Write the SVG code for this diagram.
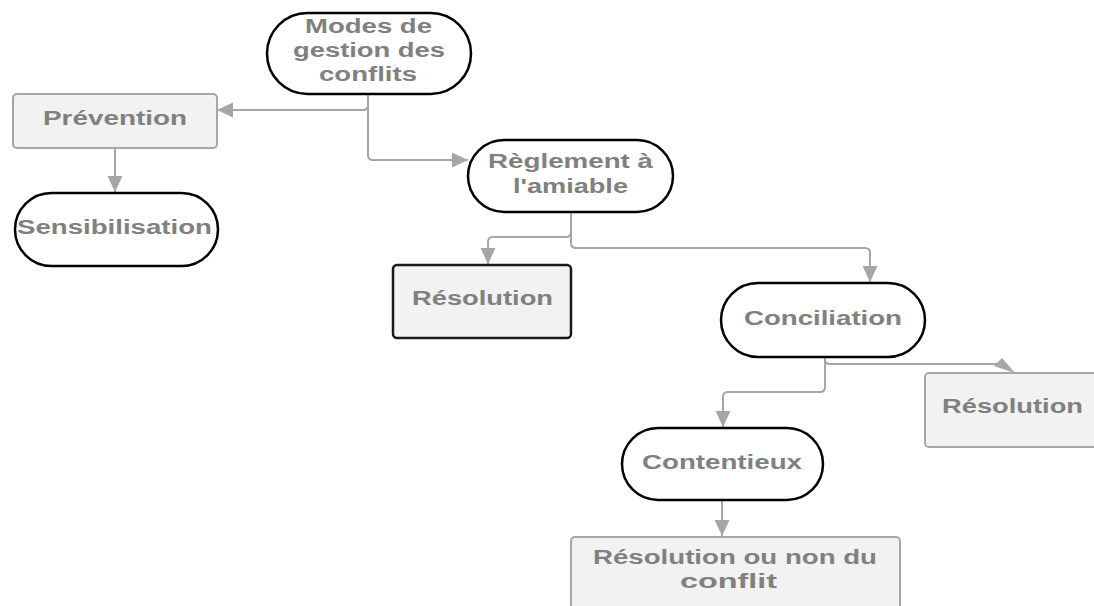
<svg xmlns="http://www.w3.org/2000/svg" width="1094" height="606" viewBox="0 0 1094 606">
<defs>
<style>
.stad{fill:#ffffff;stroke:#000000;stroke-width:2.5}
.box{fill:#f2f2f2;stroke:#a6a6a6;stroke-width:2}
.boxd{fill:#f2f2f2;stroke:#1a1a1a;stroke-width:2.5}
.t{font-family:"Liberation Sans",Arial,sans-serif;font-weight:bold;font-size:19.5px;fill:#808080}
.c{fill:none;stroke:#a6a6a6;stroke-width:2}
</style>
<marker id="ah" markerUnits="userSpaceOnUse" markerWidth="17" markerHeight="16" refX="16" refY="7.5" orient="auto">
<path d="M0,0 L16,7.5 L0,15 z" fill="#a6a6a6"/>
</marker>
</defs>
<rect width="1094" height="606" fill="#ffffff"/>
<g id="connectors">
<path class="c" d="M368,95 V105 Q368,110 363,110 H217" marker-end="url(#ah)"/>
<path class="c" d="M368,95 V155 Q368,160 373,160 H468" marker-end="url(#ah)"/>
<path class="c" d="M115,148 V192" marker-end="url(#ah)"/>
<path class="c" d="M571,212 V232 Q571,237 566,237 H493 Q488,237 488,242 V264" marker-end="url(#ah)"/>
<path class="c" d="M571,212 V243 Q571,248 576,248 H865 Q870,248 870,253 V282" marker-end="url(#ah)"/>
<path class="c" d="M825,357 V360 Q825,364 830,364 H998"/>
<polygon points="994,366 1002,358 1015,373" fill="#a6a6a6"/>
<path class="c" d="M825,357 V387 Q825,392 820,392 H728 Q723,392 723,397 V427" marker-end="url(#ah)"/>
<path class="c" d="M722,500 V536" marker-end="url(#ah)"/>
</g>
<g id="modes">
<rect class="stad" x="267" y="13" width="204" height="81" rx="40.5"/>
<text class="t" x="305" y="33" textLength="127" lengthAdjust="spacingAndGlyphs">Modes de</text>
<text class="t" x="293" y="57" textLength="152" lengthAdjust="spacingAndGlyphs">gestion des</text>
<text class="t" x="319" y="81" textLength="98" lengthAdjust="spacingAndGlyphs">conflits</text>
</g>
<g id="prevention">
<rect class="box" x="13" y="94" width="204" height="54" rx="4"/>
<text class="t" x="43" y="125" textLength="144" lengthAdjust="spacingAndGlyphs">Prévention</text>
</g>
<g id="sensibilisation">
<rect class="stad" x="15" y="193" width="203" height="73" rx="36.5"/>
<text class="t" x="17" y="234" textLength="195" lengthAdjust="spacingAndGlyphs">Sensibilisation</text>
</g>
<g id="reglement">
<rect class="stad" x="468" y="140" width="205" height="72" rx="36"/>
<text class="t" x="488" y="168" textLength="165" lengthAdjust="spacingAndGlyphs">Règlement à</text>
<text class="t" x="513" y="193" textLength="115" lengthAdjust="spacingAndGlyphs">l'amiable</text>
</g>
<g id="resolution1">
<rect class="boxd" x="393" y="265" width="178" height="73" rx="4"/>
<text class="t" x="412" y="305" textLength="141" lengthAdjust="spacingAndGlyphs">Résolution</text>
</g>
<g id="conciliation">
<rect class="stad" x="721" y="283" width="204" height="74" rx="37"/>
<text class="t" x="744" y="325" textLength="158" lengthAdjust="spacingAndGlyphs">Conciliation</text>
</g>
<g id="resolution2">
<rect class="box" x="925" y="373" width="180" height="74" rx="4"/>
<text class="t" x="942" y="413" textLength="141" lengthAdjust="spacingAndGlyphs">Résolution</text>
</g>
<g id="contentieux">
<rect class="stad" x="622" y="428" width="201" height="72" rx="36"/>
<text class="t" x="642" y="469" textLength="160" lengthAdjust="spacingAndGlyphs">Contentieux</text>
</g>
<g id="resolution3">
<rect class="box" x="571" y="537" width="329" height="85" rx="4"/>
<text class="t" x="593" y="564" textLength="284" lengthAdjust="spacingAndGlyphs">Résolution ou non du</text>
<text class="t" x="680" y="588" textLength="97" lengthAdjust="spacingAndGlyphs">conflit</text>
</g>
</svg>
